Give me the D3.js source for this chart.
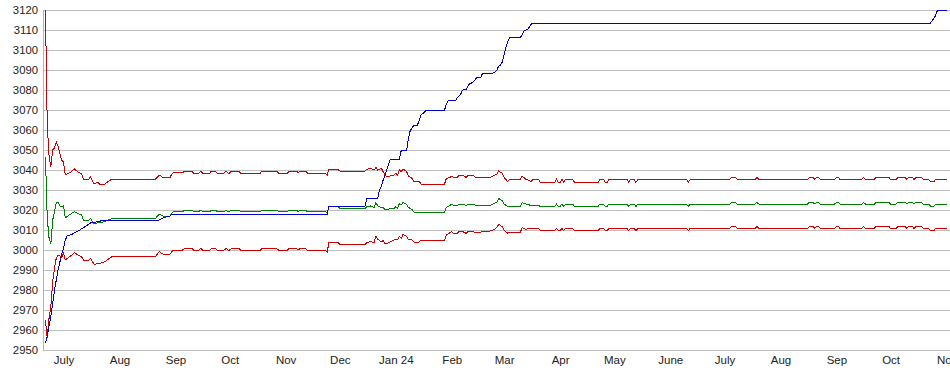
<!DOCTYPE html>
<html>
<head>
<meta charset="utf-8">
<script src="https://cdn.jsdelivr.net/npm/d3@7"></script>
<style>
  body { margin: 0; background: #fff; }
  text { font-family: "Liberation Sans", Arial, sans-serif; fill: #222; }
</style>
</head>
<body>
<div id="chart"></div>
<script>
// tick labels
const yTicks = [2950, 2960, 2970, 2980, 2990, 3000, 3010, 3020, 3030, 3040, 3050, 3060,
  3070, 3080, 3090, 3100, 3110, 3120];
const monthTicks = ["2023-07-01", "2023-08-01", "2023-09-01", "2023-10-01", "2023-11-01",
  "2023-12-01", "2024-01-01", "2024-02-01", "2024-03-01", "2024-04-01", "2024-05-01",
  "2024-06-01", "2024-07-01", "2024-08-01", "2024-09-01", "2024-10-01", "2024-11-01"];
const monthLabels = ["July", "Aug", "Sep", "Oct", "Nov", "Dec", "Jan 24", "Feb", "Mar",
  "Apr", "May", "June", "July", "Aug", "Sep", "Oct", "Nov"];

// blue step line
const stepDates = [
  "2023-06-21","2023-06-22","2023-06-23","2023-06-24","2023-06-25","2023-06-26","2023-06-27","2023-06-28","2023-06-29","2023-06-30",
  "2023-07-01","2023-07-02","2023-07-03","2023-07-06","2023-07-10","2023-07-13","2023-07-16","2023-07-19","2023-07-24","2023-08-23",
  "2023-08-25","2023-08-29","2023-08-30","2023-11-24","2023-11-25","2023-12-15","2023-12-16","2023-12-22","2023-12-23","2023-12-24",
  "2023-12-25","2023-12-26","2023-12-27","2023-12-28","2023-12-29","2024-01-03","2024-01-04","2024-01-07","2024-01-08","2024-01-09",
  "2024-01-10","2024-01-11","2024-01-13","2024-01-14","2024-01-15","2024-01-16","2024-01-17","2024-01-18","2024-01-28","2024-01-29",
  "2024-01-30","2024-02-03","2024-02-04","2024-02-05","2024-02-06","2024-02-07","2024-02-09","2024-02-10","2024-02-11","2024-02-12",
  "2024-02-13","2024-02-14","2024-02-15","2024-02-17","2024-02-18","2024-02-24","2024-02-25","2024-02-26","2024-02-27","2024-02-28",
  "2024-02-29","2024-03-01","2024-03-02","2024-03-03","2024-03-04","2024-03-10","2024-03-11","2024-03-12","2024-03-14","2024-03-15",
  "2024-03-16","2024-03-17","2024-10-23","2024-10-24","2024-10-25","2024-10-26","2024-10-27","2024-11-01"
];
const stepValues = [
  2953.5, 2957, 2962, 2967, 2973, 2980, 2985, 2990, 2994, 2998,
  3001, 3005, 3007, 3008, 3010, 3011.7, 3013.5, 3014, 3015, 3015,
  3016, 3017, 3018, 3018, 3022, 3022, 3026, 3026, 3030, 3032,
  3035, 3037.5, 3040, 3043, 3045.3, 3045.3, 3049.7, 3049.7, 3056, 3059.7,
  3061, 3062.5, 3062.5, 3065, 3067.5, 3068.3, 3069, 3070, 3070, 3073,
  3074.7, 3074.7, 3076, 3077, 3078, 3080, 3080.3, 3082, 3083.3, 3083.5,
  3084.2, 3085.3, 3086.3, 3086.3, 3088.3, 3088.5, 3089, 3090, 3092, 3092.5,
  3094, 3098, 3101.5, 3104, 3106.3, 3106.3, 3107.5, 3109.5, 3110.3, 3111.5,
  3113, 3113.3, 3113.3, 3114.7, 3115.8, 3117.5, 3120, 3120
];

// green middle line and the two red band lines share these dates
const bandDates = [
  "2023-06-21","2023-06-22","2023-06-23","2023-06-24","2023-06-25","2023-06-26","2023-06-27","2023-06-28","2023-06-29","2023-06-30",
  "2023-07-01","2023-07-02","2023-07-03","2023-07-05","2023-07-07","2023-07-09","2023-07-11","2023-07-12","2023-07-15","2023-07-16",
  "2023-07-17","2023-07-18","2023-07-20","2023-07-21","2023-07-24","2023-07-26","2023-07-28","2023-08-21","2023-08-23","2023-08-25",
  "2023-08-29","2023-08-30","2023-08-31","2023-09-05","2023-09-06","2023-09-10","2023-09-11","2023-09-14","2023-09-15","2023-09-16",
  "2023-09-20","2023-09-21","2023-09-23","2023-09-24","2023-09-28","2023-09-29","2023-09-30","2023-10-01","2023-10-02","2023-10-06",
  "2023-10-07","2023-10-18","2023-10-19","2023-10-27","2023-10-28","2023-11-02","2023-11-03","2023-11-07","2023-11-08","2023-11-09",
  "2023-11-12","2023-11-13","2023-11-23","2023-11-24","2023-11-25","2023-11-30","2023-12-01","2023-12-15","2023-12-16","2023-12-18",
  "2023-12-20","2023-12-21","2023-12-22","2023-12-24","2023-12-25","2023-12-26","2023-12-27","2023-12-29","2023-12-31","2024-01-01",
  "2024-01-02","2024-01-03","2024-01-04","2024-01-05","2024-01-07","2024-01-08","2024-01-10","2024-01-11","2024-01-14","2024-01-15",
  "2024-01-28","2024-01-29","2024-01-31","2024-02-01","2024-02-02","2024-02-04","2024-02-05","2024-02-07","2024-02-09","2024-02-10",
  "2024-02-13","2024-02-14","2024-02-22","2024-02-24","2024-02-26","2024-02-27","2024-02-29","2024-03-01","2024-03-03","2024-03-04",
  "2024-03-10","2024-03-11","2024-03-13","2024-03-15","2024-03-16","2024-03-17","2024-03-20","2024-03-21","2024-03-29","2024-03-30",
  "2024-03-31","2024-04-01","2024-04-02","2024-04-03","2024-04-04","2024-04-08","2024-04-09","2024-04-22","2024-04-23","2024-04-25",
  "2024-04-26","2024-04-27","2024-04-28","2024-05-08","2024-05-09","2024-05-10","2024-05-12","2024-05-13","2024-05-14","2024-06-10",
  "2024-06-11","2024-06-12","2024-07-04","2024-07-05","2024-07-07","2024-07-08","2024-07-18","2024-07-19","2024-07-20","2024-08-16",
  "2024-08-17","2024-08-19","2024-08-20","2024-08-21","2024-08-22","2024-08-23","2024-08-31","2024-09-01","2024-09-02","2024-09-03",
  "2024-09-15","2024-09-16","2024-09-17","2024-09-22","2024-09-23","2024-09-30","2024-10-01","2024-10-04","2024-10-05","2024-10-09",
  "2024-10-10","2024-10-11","2024-10-13","2024-10-14","2024-10-15","2024-10-18","2024-10-19","2024-10-22","2024-10-23","2024-10-25",
  "2024-10-26","2024-11-01"
];
const upperBand = [
  3120, 3063, 3047, 3041.5, 3050, 3051, 3054, 3052, 3048, 3045,
  3044, 3037.5, 3038, 3039, 3040.5, 3039, 3038, 3035.5, 3035.5, 3036.5,
  3034.5, 3033, 3034, 3033, 3033, 3034.5, 3035.5, 3035.5, 3037.5, 3036.3,
  3036.3, 3038, 3038.7, 3038.7, 3039.5, 3039.5, 3038.5, 3038.5, 3039.5, 3038.5,
  3038.5, 3039.5, 3039.5, 3038.5, 3038.5, 3039.5, 3038.5, 3038.5, 3039.5, 3039.5,
  3038.5, 3038.5, 3039.5, 3039.5, 3038.5, 3038.5, 3039.5, 3039.5, 3038.5, 3039.5,
  3039.5, 3038.5, 3038.5, 3037.5, 3040.3, 3040.3, 3039.5, 3039.5, 3040.3, 3040.8,
  3040, 3041.3, 3040, 3040.8, 3039.2, 3037.5, 3036.7, 3037, 3037.5, 3038.3,
  3037.5, 3040, 3039.2, 3040.5, 3039.2, 3037, 3035.8, 3034.2, 3034.2, 3033,
  3033, 3035.8, 3036.3, 3037, 3036.2, 3036.2, 3037.3, 3037.3, 3036.3, 3037.3,
  3037.3, 3036.2, 3036.2, 3037, 3038, 3039.5, 3038.3, 3036.3, 3034.2, 3035.3,
  3035.3, 3037, 3035.3, 3034.7, 3034.2, 3035.3, 3035.3, 3033.8, 3033.8, 3035.3,
  3033.8, 3033.8, 3035.3, 3033.8, 3035.3, 3035.3, 3033.8, 3033.8, 3035.3, 3035.3,
  3033.8, 3033.8, 3035.3, 3035.3, 3033.8, 3035.3, 3035.3, 3033.8, 3035.3, 3035.3,
  3033.8, 3035.3, 3035.3, 3036.3, 3036.3, 3035.3, 3035.3, 3036.3, 3035.3, 3035.3,
  3036.3, 3036.3, 3035.3, 3036.3, 3036.3, 3035.3, 3035.3, 3036.3, 3036.3, 3035.3,
  3035.3, 3036.3, 3035.3, 3035.3, 3036.3, 3036.3, 3035.3, 3035.3, 3036.3, 3036.3,
  3035.3, 3036.3, 3036.3, 3035.3, 3036.3, 3036.3, 3035.3, 3035.3, 3034.2, 3034.2,
  3035.3, 3035.3
];
const midLine = [
  3046.7, 3016, 3006, 3003, 3015, 3019, 3023.5, 3024, 3022, 3021.5,
  3022, 3016, 3016.7, 3018, 3019.2, 3018.3, 3017.5, 3015, 3015, 3015.8,
  3014.2, 3013, 3013.7, 3013.5, 3014.2, 3015, 3015.8, 3015.8, 3018, 3017,
  3017, 3018.5, 3019.2, 3019.2, 3020, 3020, 3019.2, 3019.2, 3020, 3019.2,
  3019.2, 3020, 3020, 3019.2, 3019.2, 3020, 3019.2, 3019.2, 3020, 3020,
  3019.2, 3019.2, 3020, 3020, 3019.2, 3019.2, 3020, 3020, 3019.2, 3020,
  3020, 3019.2, 3019.2, 3018.5, 3021.7, 3021.7, 3020.8, 3020.8, 3021.7, 3022,
  3021.3, 3023.7, 3022, 3021.3, 3021.3, 3020.3, 3020, 3020.7, 3020.7, 3021.7,
  3020.8, 3023.3, 3022.5, 3023.8, 3022.7, 3021.3, 3020.3, 3019, 3019, 3019,
  3019, 3021.3, 3022.3, 3023, 3022.2, 3022.2, 3023, 3023, 3022.2, 3023,
  3023, 3022.3, 3022.3, 3023, 3024, 3025.7, 3024.7, 3023, 3021.7, 3022,
  3022, 3023.7, 3023, 3022.5, 3022.5, 3022.5, 3022.5, 3021.7, 3021.7, 3023,
  3021.7, 3021.7, 3023, 3021.7, 3023, 3023, 3021.7, 3021.7, 3023, 3023,
  3021.7, 3021.7, 3023, 3023, 3021.7, 3023, 3023, 3021.7, 3023, 3023,
  3021.7, 3023, 3023, 3023.8, 3023.8, 3023, 3023, 3023.8, 3023, 3023,
  3023.8, 3023.8, 3023, 3023.8, 3023.8, 3023, 3023, 3023.8, 3023.8, 3023,
  3023, 3023.8, 3023, 3023, 3023.8, 3023.8, 3023, 3023, 3023.8, 3023.8,
  3023, 3023.8, 3023.8, 3023, 3023.8, 3023.8, 3023, 3023, 3022, 3022,
  3023, 3023
];
const lowerBand = [
  2965, 2956, 2966, 2972, 2984, 2991, 2996, 2997.5, 2997, 2996.3,
  2998.3, 2995, 2995.8, 2997, 2998.7, 2997.5, 2996.7, 2995, 2995, 2995.8,
  2994.2, 2992.8, 2993.3, 2993.3, 2994.2, 2995.5, 2996.7, 2996.7, 2999.2, 2998,
  2998, 2999.2, 3000, 3000, 3000.8, 3000.8, 3000, 3000, 3000.8, 3000,
  3000, 3000.8, 3000.8, 3000, 3000, 3000.8, 3000, 3000, 3000.8, 3000.8,
  3000, 3000, 3000.8, 3000.8, 3000, 3000, 3000.8, 3000.8, 3000, 3000.8,
  3000.8, 3000, 3000, 2999, 3003.8, 3003.8, 3002.8, 3002.8, 3003.8, 3004.2,
  3003.7, 3007, 3005.3, 3004.2, 3004.7, 3003.3, 3003, 3004.2, 3005, 3005.3,
  3005, 3006.7, 3005.8, 3007.8, 3006.7, 3005.3, 3005, 3004, 3004, 3005,
  3005, 3007.5, 3008.7, 3009.2, 3008.3, 3008.3, 3009.2, 3009.2, 3008.3, 3009.2,
  3009.2, 3008.7, 3009.5, 3010, 3011.3, 3012.8, 3011.7, 3010, 3008.3, 3009,
  3009, 3011.2, 3010.3, 3010.8, 3010.8, 3010.8, 3010.8, 3009.7, 3009.7, 3010.8,
  3009.7, 3009.7, 3010.8, 3009.7, 3010.8, 3010.8, 3009.7, 3009.7, 3010.8, 3010.8,
  3009.7, 3009.7, 3010.8, 3010.8, 3009.7, 3010.8, 3010.8, 3009.7, 3010.8, 3010.8,
  3009.7, 3010.8, 3010.8, 3011.8, 3011.8, 3010.8, 3010.8, 3011.8, 3010.8, 3010.8,
  3011.8, 3011.8, 3010.8, 3011.8, 3011.8, 3010.8, 3010.8, 3011.8, 3011.8, 3010.8,
  3010.8, 3011.8, 3010.8, 3010.8, 3011.8, 3011.8, 3010.8, 3010.8, 3011.8, 3011.8,
  3010.8, 3011.8, 3011.8, 3010.8, 3011.8, 3011.8, 3010.8, 3010.8, 3009.7, 3009.7,
  3010.8, 3010.8
];

const parseDate = d3.timeParse("%Y-%m-%d");

const margin = { top: 10, left: 43, bottom: 350 };
const width = 950, height = 375;

const x = d3.scaleTime()
  .domain([parseDate("2023-07-01"), parseDate("2024-11-01")])
  .range([63.5, 946.6]);
const y = d3.scaleLinear().domain([2950, 3120]).range([margin.bottom, margin.top]);

const svg = d3.select("#chart").append("svg")
  .attr("width", width)
  .attr("height", height);

// horizontal grid
svg.append("g")
  .selectAll("line")
  .data(yTicks)
  .enter().append("line")
  .attr("x1", margin.left)
  .attr("x2", width)
  .attr("y1", d => y(d))
  .attr("y2", d => y(d))
  .attr("stroke", "#c0c0c0")
  .attr("shape-rendering", "crispEdges");

svg.append("line")
  .attr("x1", margin.left).attr("x2", margin.left)
  .attr("y1", margin.top).attr("y2", margin.bottom)
  .attr("stroke", "#b4b4b4")
  .attr("shape-rendering", "crispEdges");

const yAxis = d3.axisLeft(y)
  .tickValues(yTicks)
  .tickFormat(d3.format("d"))
  .tickSize(0)
  .tickPadding(5);
svg.append("g")
  .attr("transform", "translate(" + margin.left + ",0)")
  .call(yAxis)
  .call(g => g.select(".domain").remove())
  .selectAll("text")
  .style("font-size", "11.3px")
  .attr("fill", "#222");

const xAxis = d3.axisBottom(x)
  .tickValues(monthTicks.map(parseDate))
  .tickFormat((d, i) => monthLabels[i])
  .tickSize(0)
  .tickPadding(6);
svg.append("g")
  .attr("transform", "translate(0," + margin.bottom + ")")
  .call(xAxis)
  .call(g => g.select(".domain").remove())
  .selectAll("text")
  .style("font-size", "11.5px")
  .attr("fill", "#222");

const line = d3.line()
  .x(d => x(d[0]))
  .y(d => y(d[1]));

const series = [
  { dates: bandDates, values: lowerBand, color: "#cc0000" },
  { dates: bandDates, values: upperBand, color: "#cc0000" },
  { dates: bandDates, values: midLine, color: "#008000" },
  { dates: stepDates, values: stepValues, color: "#0000cc" }
];

series.forEach(s => {
  const points = s.dates.map((d, i) => [parseDate(d), s.values[i]]);
  svg.append("path")
    .datum(points)
    .attr("fill", "none")
    .attr("stroke", s.color)
    .attr("stroke-width", 1)
    .attr("shape-rendering", "crispEdges")
    .attr("d", line);
});
</script>
</body>
</html>
